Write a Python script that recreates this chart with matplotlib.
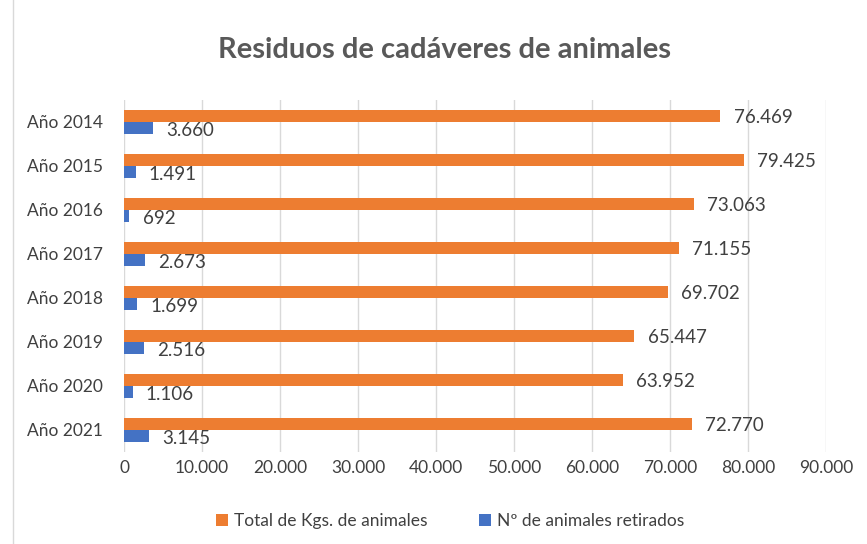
import numpy as np
import matplotlib.pyplot as plt
from matplotlib.patches import Rectangle

years = ["Año 2014", "Año 2015", "Año 2016", "Año 2017",
         "Año 2018", "Año 2019", "Año 2020", "Año 2021"]
kgs = [76469, 79425, 73063, 71155, 69702, 65447, 63952, 72770]
animales = [3660, 1491, 692, 2673, 1699, 2516, 1106, 3145]

orange = '#ED7D31'
blue = '#4472C4'
txt = '#404040'

def fmt(v):
    return "{:,}".format(v).replace(",", ".")

plt.rcParams['font.family'] = ['Lato', 'DejaVu Sans']

fig = plt.figure(figsize=(8.67, 5.44), dpi=100)
ax = fig.add_axes([124/867, 1-452/544, (826-124)/867, (452-100)/544])

y = np.arange(len(years))
h = 0.27
ax.barh(y - h/2, kgs, height=h, color=orange, label='Total de Kgs. de animales')
ax.barh(y + h/2, animales, height=h, color=blue, label='Nº de animales retirados')

for i in range(len(years)):
    ax.annotate(fmt(kgs[i]), (kgs[i], y[i] - h/2), xytext=(9.5, -1), textcoords='offset points',
                va='center', ha='left', fontsize=13.5, color=txt)
    ax.annotate(fmt(animales[i]), (animales[i], y[i] + h/2), xytext=(9.5, -2), textcoords='offset points',
                va='center', ha='left', fontsize=13.5, color=txt)

ax.set_xlim(0, 90000)
ax.set_ylim(len(years) - 0.5, -0.5)
ax.set_yticks(y, years)
xt = np.arange(0, 90001, 10000)
ax.set_xticks(xt, [fmt(v) for v in xt])
ax.tick_params(axis='both', length=0, labelsize=12.5, colors=txt)
ax.tick_params(axis='x', pad=6)
ax.tick_params(axis='y', pad=15)
ax.grid(axis='x', color='#D9D9D9', linewidth=1)
ax.set_axisbelow(True)
for s in ax.spines.values():
    s.set_visible(False)

fig.text(445/867, 1-50/544, "Residuos de cadáveres de animales", ha='center', va='center',
         fontsize=21, fontweight='bold', color='#595959')

fig.legend(loc='center', bbox_to_anchor=(450/867, 1-521/544), ncol=2, frameon=False,
           fontsize=12.5, handlelength=0.7, handleheight=0.7, columnspacing=3.0, handletextpad=0.3,
           labelcolor=txt)

fig.patches.append(Rectangle((13/867, -0.01), 1.0, 1.02, transform=fig.transFigure,
                             fill=False, edgecolor='#D9D9D9', linewidth=1))

fig.savefig('out.png', dpi=100)
